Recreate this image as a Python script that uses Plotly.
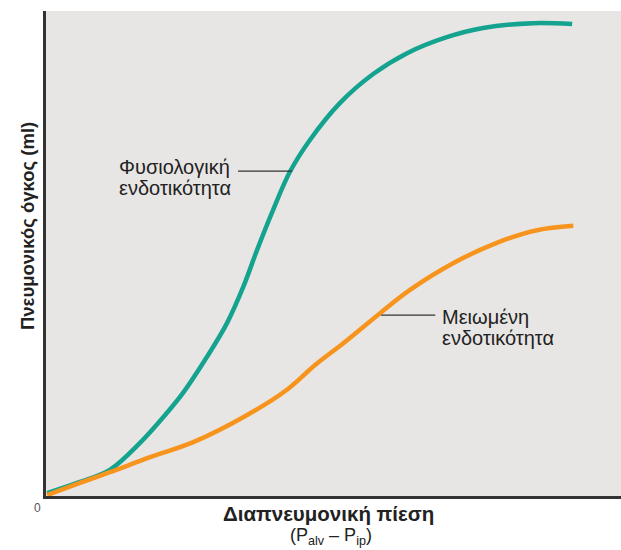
import plotly.graph_objects as go

# Transpulmonary pressure (arbitrary units, 0-100) and lung volume (arbitrary units, 0-100)
normal_x = [0.2, 5.9, 11.1, 16.3, 21.0, 23.8, 28.0, 31.5, 34.3, 36.7, 39.5, 42.4, 45.9, 51.1,
            56.9, 62.8, 69.7, 76.0, 84.7, 91.5]
normal_y = [0.6, 2.9, 5.4, 10.9, 17.1, 21.2, 28.7, 35.7, 43.1, 50.7, 59.0, 66.8, 73.4, 81.0,
            87.0, 91.3, 94.6, 96.5, 97.5, 97.3]

reduced_x = [0.2, 5.9, 11.1, 18.1, 25.6, 35.0, 41.9, 46.8, 51.7, 58.1, 63.3, 70.8, 78.4, 85.4, 91.7]
reduced_y = [0.2, 2.7, 4.9, 8.0, 11.1, 16.7, 21.9, 27.0, 31.5, 37.7, 42.5, 48.0, 52.2, 54.8, 55.7]

label_normal = ["Φυσιολογική", "ενδοτικότητα"]
label_reduced = ["Μειωμένη", "ενδοτικότητα"]
x_title = "Διαπνευμονική πίεση"
x_subtitle = "(P<sub>alv</sub> – P<sub>ip</sub>)"
y_title = "Πνευμονικός όγκος (ml)"
zero_label = "0"

GREEN = "#13a38e"
ORANGE = "#f7941d"
FONT = "Liberation Sans, Arial, sans-serif"
TXT = "#222222"

fig = go.Figure()
fig.add_trace(go.Scatter(x=normal_x, y=normal_y, mode="lines",
                         line=dict(color=GREEN, width=4.5, shape="spline", smoothing=1.0),
                         hoverinfo="skip", showlegend=False))
fig.add_trace(go.Scatter(x=reduced_x, y=reduced_y, mode="lines",
                         line=dict(color=ORANGE, width=4.5, shape="spline", smoothing=1.0),
                         hoverinfo="skip", showlegend=False))

# leader lines
fig.add_shape(type="line", x0=33.4, x1=42.8, y0=67.0, y1=67.0,
              line=dict(color="#333333", width=1.2))
fig.add_shape(type="line", x0=58.3, x1=67.7, y0=37.3, y1=37.3,
              line=dict(color="#333333", width=1.2))

for txt, yy in zip(label_normal, [67.9, 63.5]):
    fig.add_annotation(x=12.35, y=yy, xref="x", yref="y", text=txt, showarrow=False,
                       xanchor="left", yanchor="middle", align="left",
                       font=dict(family=FONT, size=20, color=TXT))
for txt, yy in zip(label_reduced, [37.0, 32.6]):
    fig.add_annotation(x=68.5, y=yy, xref="x", yref="y", text=txt, showarrow=False,
                       xanchor="left", yanchor="middle", align="left",
                       font=dict(family=FONT, size=20, color=TXT))

fig.add_annotation(x=-0.014, y=-0.025, xref="paper", yref="paper", text=zero_label,
                   showarrow=False, xanchor="center", yanchor="middle",
                   font=dict(family=FONT, size=12, color="#555555"))
fig.add_annotation(x=0.492, y=-0.037, xref="paper", yref="paper", text="<b>" + x_title + "</b>",
                   showarrow=False, xanchor="center", yanchor="middle",
                   font=dict(family=FONT, size=20.5, color=TXT))
fig.add_annotation(x=0.496, y=-0.0835, xref="paper", yref="paper", text=x_subtitle,
                   showarrow=False, xanchor="center", yanchor="middle",
                   font=dict(family=FONT, size=18, color=TXT))
fig.add_annotation(x=-0.031, y=0.557, xref="paper", yref="paper", text="<b>" + y_title + "</b>",
                   showarrow=False, xanchor="center", yanchor="middle", textangle=-90,
                   font=dict(family=FONT, size=18.5, color=TXT))

fig.update_xaxes(range=[0, 100], showgrid=False, zeroline=False, showticklabels=False,
                 ticks="", showline=True, linecolor="#333333", linewidth=3)
fig.update_yaxes(range=[0, 100], showgrid=False, zeroline=False, showticklabels=False,
                 ticks="", showline=True, linecolor="#333333", linewidth=3)

fig.update_layout(width=621, height=550, margin=dict(l=46, r=0, t=11, b=54),
                  plot_bgcolor="#e8e6e5", paper_bgcolor="#ffffff",
                  font=dict(family=FONT))

# remove the default page margin so the figure fills the window exactly
fig.write_html("out.html", config={"displayModeBar": False},
               post_script="document.body.style.margin='0';"
                           "document.documentElement.style.overflow='hidden';"
                           "document.body.style.overflow='hidden';")
